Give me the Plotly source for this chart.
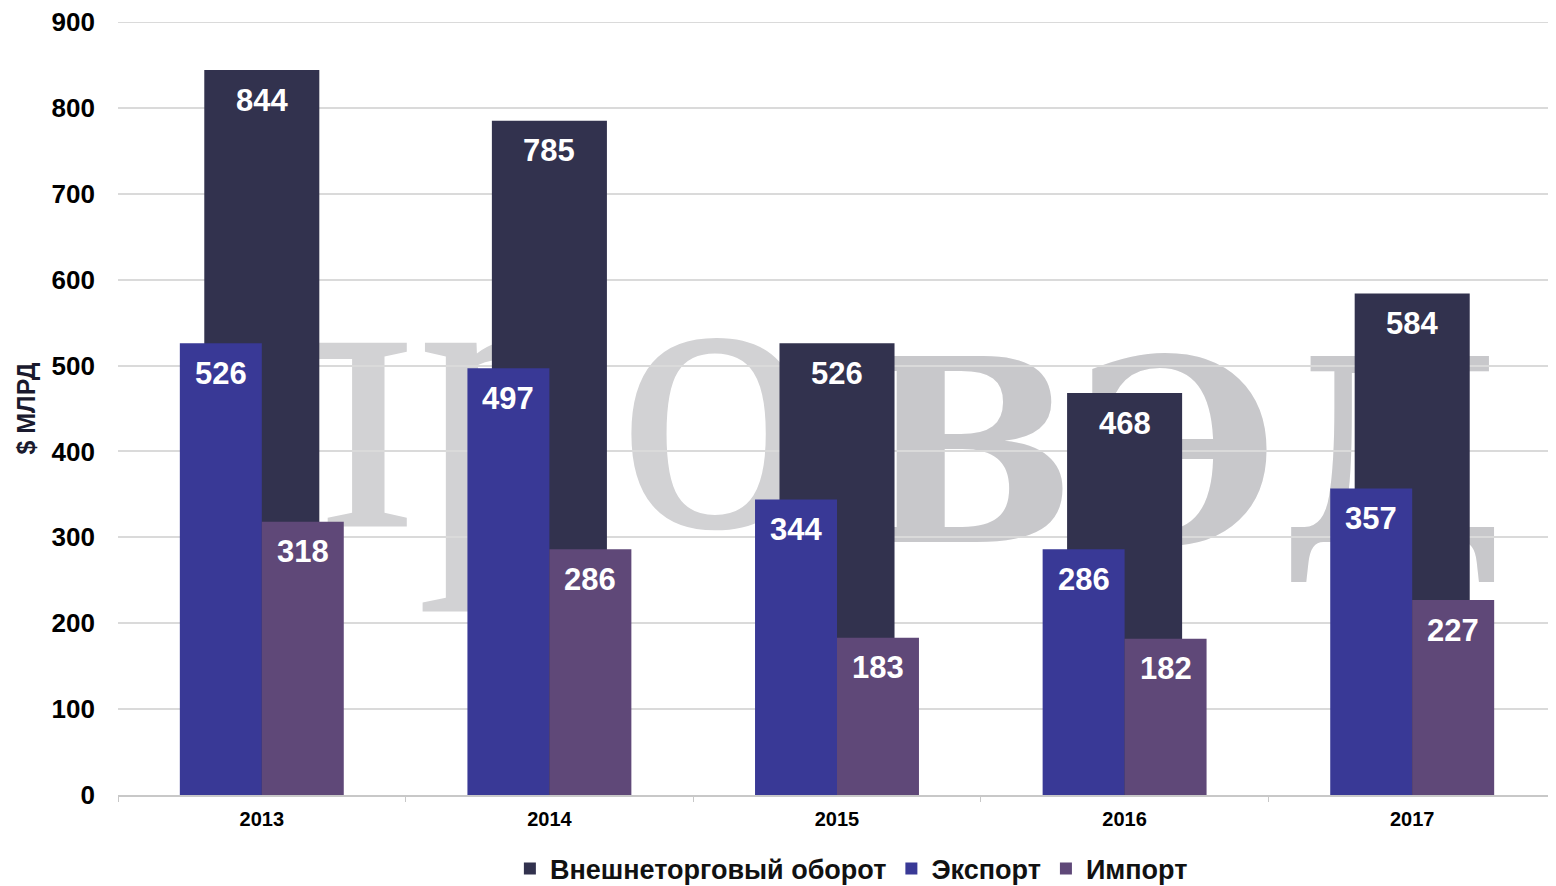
import plotly.graph_objects as go

years = ["2013", "2014", "2015", "2016", "2017"]
turnover = [844, 785, 526, 468, 584]
export = [526, 497, 344, 286, 357]
imports = [318, 286, 183, 182, 227]
y_ticks = [0, 100, 200, 300, 400, 500, 600, 700, 800, 900]

names = ["Внешнеторговый оборот", "Экспорт", "Импорт"]
colors = ["#32324E", "#393996", "#5F4878"]

FONT = "Arial, Liberation Sans, sans-serif"
GRID = "#DADADA"

fig = go.Figure()
series = [
    (turnover, names[0], colors[0], 0.40, -0.20, 0.0),
    (export, names[1], colors[1], 0.285, -0.285, -0.1425),
    (imports, names[2], colors[2], 0.285, 0.0, 0.1425),
]
for vals, name, col, w, off, _ in series:
    fig.add_trace(go.Bar(
        x=years, y=vals, name=f"<b>{name}</b>",
        marker=dict(color=col, line=dict(width=0)),
        width=w, offset=off, hoverinfo="y",
    ))

# value labels inside the top of each bar
annotations = []
for vals, name, col, w, off, center in series:
    for i, v in enumerate(vals):
        annotations.append(dict(
            x=i + center, y=v, xref="x", yref="y",
            text=f"<b>{v}</b>", showarrow=False,
            yanchor="middle", yshift=-30,
            font=dict(family=FONT, size=31, color="white"),
        ))

# faint watermark behind the bars
fig.add_shape(
    type="rect", xref="paper", yref="paper",
    x0=0.262, x1=0.282, y0=0.568, y1=0.588,
    line=dict(width=0), fillcolor="rgba(0,0,0,0)", layer="below",
    label=dict(text="про", textposition="middle center",
               font=dict(family="Liberation Serif, DejaVu Serif, serif", size=400, color="#D2D2D4")),
)
fig.add_shape(
    type="rect", xref="paper", yref="paper",
    x0=0.731, x1=0.751, y0=0.454, y1=0.474,
    line=dict(width=0), fillcolor="rgba(0,0,0,0)", layer="below",
    label=dict(text="<b>ВЭД</b>", textposition="middle center",
               font=dict(family="DejaVu Serif, serif", size=255, color="#C8C8CB")),
)
# top gridline at the upper end of the value axis
fig.add_shape(
    type="line", xref="paper", yref="y", x0=0, x1=1, y0=y_ticks[-1], y1=y_ticks[-1],
    line=dict(color=GRID, width=2), layer="below",
)

fig.update_layout(
    width=1548, height=878,
    barmode="overlay",
    plot_bgcolor="rgba(0,0,0,0)", paper_bgcolor="white",
    margin=dict(l=110, r=0, t=14, b=91, autoexpand=False),
    font=dict(family=FONT, color="black"),
    annotations=annotations,
    legend=dict(
        orientation="h", x=0.51, xanchor="center", y=-0.0957, yanchor="middle",
        font=dict(size=27, family=FONT, color="#111"),
        traceorder="normal", itemwidth=30,
    ),
    xaxis=dict(
        type="category", automargin=False,
        tickfont=dict(size=20, family=FONT),
        tickprefix="<b>", ticksuffix="</b>",
        showline=True, linecolor="#C8C8C8", linewidth=2,
        ticks="outside", tickson="boundaries", ticklen=5, tickcolor="#C8C8C8",
        ticklabelstandoff=5,
        showgrid=False, range=[-0.5, 4.5],
    ),
    yaxis=dict(
        range=[0, 900], tickmode="array", tickvals=y_ticks,
        ticktext=[f"<b>{t}</b>" for t in y_ticks],
        automargin=False, ticklabeloverflow="allow",
        tickfont=dict(size=26, family=FONT),
        showgrid=True, gridcolor=GRID, gridwidth=2,
        zeroline=False,
        ticklabelstandoff=22,
        title=dict(text="<b>$ МЛРД</b>", font=dict(size=25, color="#1a1a2e"), standoff=8),
    ),
)

fig.write_html("out.html")
